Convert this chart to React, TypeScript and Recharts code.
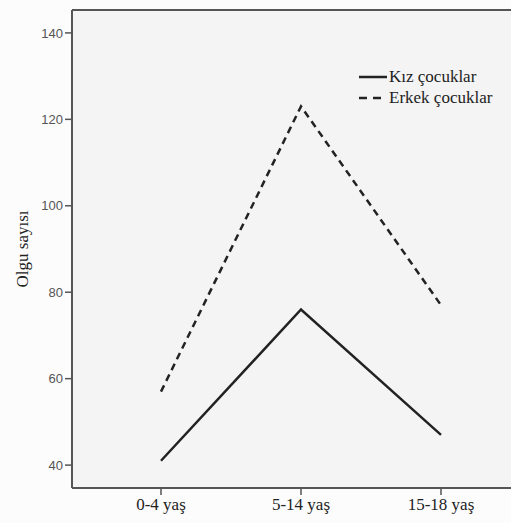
import React from 'react';
import {
  LineChart, Line, XAxis, YAxis, CartesianGrid
} from 'recharts';

const ageGroups = ['0-4 yaş', '5-14 yaş', '15-18 yaş'];
const girls = [41, 76, 47];
const boys = [57, 123, 77];
const yTicks = [40, 60, 80, 100, 120, 140];
const yMin = 34.7;
const yMax = 145.3;

const data = ageGroups.map((g, i) => ({ group: g, kiz: girls[i], erkek: boys[i] }));

const serif = '"Liberation Serif", "DejaVu Serif", serif';
const sans = '"Liberation Sans", Arial, sans-serif';

const LegendBox = () => (
  <div style={{ position: 'absolute', left: 358, top: 66, fontFamily: serif, fontSize: 17, color: '#222', lineHeight: '21px' }}>
    <div style={{ display: 'flex', alignItems: 'center' }}>
      <svg width={31} height={10}><line x1={1} y1={5} x2={29} y2={5} stroke="#222" strokeWidth={2.5} /></svg>
      <span>Kız çocuklar</span>
    </div>
    <div style={{ display: 'flex', alignItems: 'center' }}>
      <svg width={31} height={10}><line x1={1} y1={5} x2={29} y2={5} stroke="#222" strokeWidth={2.5} strokeDasharray="8 6" /></svg>
      <span>Erkek çocuklar</span>
    </div>
  </div>
);

export default function App() {
  return (
    <div style={{ position: 'absolute', left: 0, top: 0, width: 511, height: 523, overflow: 'hidden', background: '#fcfcfc' }}>
      <LineChart width={530} height={523} data={data} margin={{ top: 9, right: 0, bottom: 0, left: 0 }}>
        <CartesianGrid stroke="none" fill="#f4f4f4" fillOpacity={1} />
        <XAxis
          dataKey="group"
          height={35}
          padding={{ left: 89, right: 89 }}
          axisLine={{ stroke: '#555', strokeWidth: 2 }}
          tickLine={{ stroke: '#555', strokeWidth: 1.5 }}
          tickSize={7}
          tickMargin={3}
          tick={{ fontFamily: serif, fontSize: 17, fill: '#222' }}
        />
        <XAxis
          xAxisId="top"
          orientation="top"
          dataKey="group"
          height={1}
          tick={false}
          tickLine={false}
          axisLine={{ stroke: '#555', strokeWidth: 2 }}
        />
        <YAxis
          width={72}
          domain={[yMin, yMax]}
          ticks={yTicks}
          axisLine={{ stroke: '#555', strokeWidth: 2 }}
          tickLine={{ stroke: '#555', strokeWidth: 1.5 }}
          tickSize={7}
          tickMargin={2}
          tick={{ fontFamily: sans, fontSize: 13, fill: '#555' }}
          label={{ value: 'Olgu sayısı', angle: -90, position: 'insideLeft', offset: 22,
            style: { textAnchor: 'middle', fontFamily: serif, fontSize: 17, fill: '#222' } }}
        />
        <Line dataKey="kiz" stroke="#222" strokeWidth={2.5} dot={false} isAnimationActive={false} />
        <Line dataKey="erkek" stroke="#222" strokeWidth={2.5} strokeDasharray="7 5" dot={false} isAnimationActive={false} />
      </LineChart>
      <LegendBox />
    </div>
  );
}
